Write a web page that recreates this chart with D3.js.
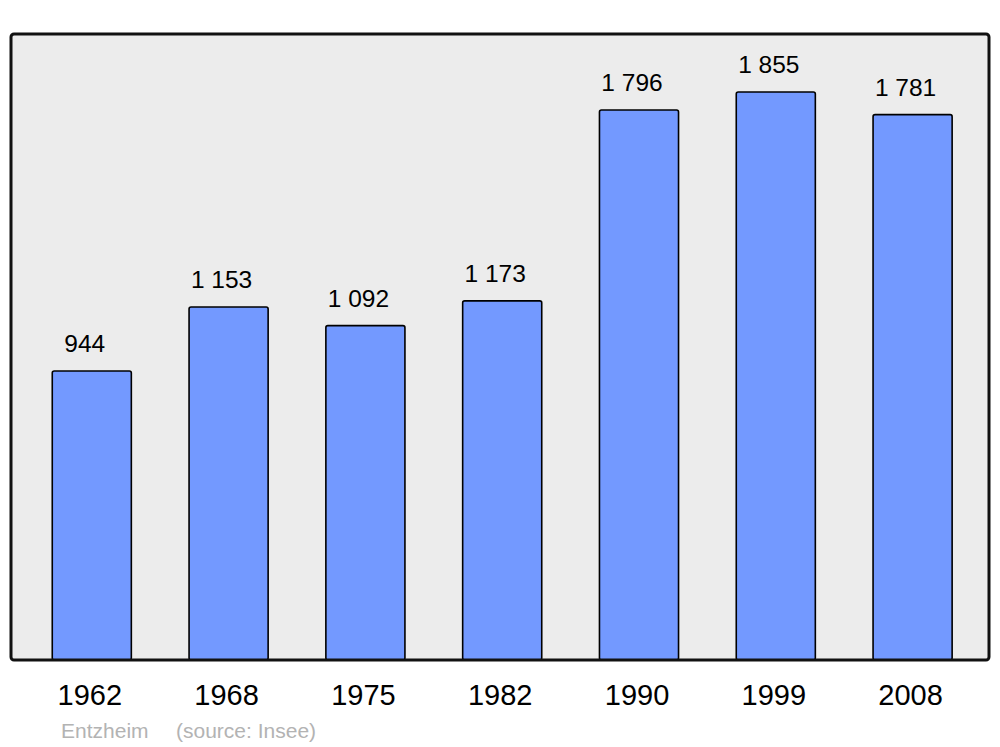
<!DOCTYPE html>
<html>
<head>
<meta charset="utf-8">
<script src="https://cdn.jsdelivr.net/npm/d3@7"></script>
<style>
html,body{margin:0;padding:0;background:#fff;}
svg{display:block;font-family:"Liberation Sans",Arial,sans-serif;}
</style>
</head>
<body>
<svg id="chart" width="1000" height="747"></svg>
<script>
const years = ["1962","1968","1975","1982","1990","1999","2008"];
const population = [944,1153,1092,1173,1796,1855,1781];
const valueLabels = ["944","1 153","1 092","1 173","1 796","1 855","1 781"];
const commune = "Entzheim";
const source = "(source: Insee)";

const svg = d3.select("#chart");
const frame = {x0: 11, x1: 989, y0: 34, y1: 660};

svg.append("rect")
  .attr("x", frame.x0).attr("y", frame.y0)
  .attr("width", frame.x1 - frame.x0).attr("height", frame.y1 - frame.y0)
  .attr("rx", 3).attr("ry", 3)
  .attr("fill", "#ececec");

const x = d3.scaleBand()
  .domain(years)
  .range([23.4, 981.0])
  .paddingInner(0.422)
  .paddingOuter(0.211);

const y = d3.scaleLinear()
  .domain([0, 1855])
  .range([frame.y1, 92]);

svg.append("g").selectAll("rect")
  .data(years)
  .join("rect")
  .attr("x", d => x(d))
  .attr("y", (d, i) => y(population[i]))
  .attr("width", x.bandwidth())
  .attr("height", (d, i) => y(0) - y(population[i]))
  .attr("rx", 2).attr("ry", 2)
  .attr("fill", "#7399ff")
  .attr("stroke", "#000")
  .attr("stroke-width", 1.6);

svg.append("g").selectAll("text")
  .data(years)
  .join("text")
  .attr("x", d => x(d) + x.bandwidth() / 2 - 7)
  .attr("y", (d, i) => y(population[i]) - 19)
  .attr("text-anchor", "middle")
  .attr("font-size", 24.5)
  .attr("fill", "#000")
  .text((d, i) => valueLabels[i]);

svg.append("rect")
  .attr("x", frame.x0).attr("y", frame.y0)
  .attr("width", frame.x1 - frame.x0).attr("height", frame.y1 - frame.y0)
  .attr("rx", 3).attr("ry", 3)
  .attr("fill", "none")
  .attr("stroke", "#111")
  .attr("stroke-width", 3);

const xAxis = d3.axisBottom(x).tickSize(0).tickPadding(0);
const gx = svg.append("g")
  .attr("transform", `translate(-2, 705)`)
  .call(xAxis);
gx.select(".domain").remove();
gx.selectAll("text")
  .attr("dy", 0)
  .attr("y", 0)
  .attr("font-size", 29)
  .attr("font-family", "Liberation Sans, Arial, sans-serif")
  .attr("fill", "#000");

svg.append("text")
  .attr("x", 61).attr("y", 738)
  .attr("font-size", 21)
  .attr("fill", "#b3b3b3")
  .text(commune);
svg.append("text")
  .attr("x", 176).attr("y", 738)
  .attr("font-size", 21)
  .attr("fill", "#b3b3b3")
  .text(source);
</script>
</body>
</html>
